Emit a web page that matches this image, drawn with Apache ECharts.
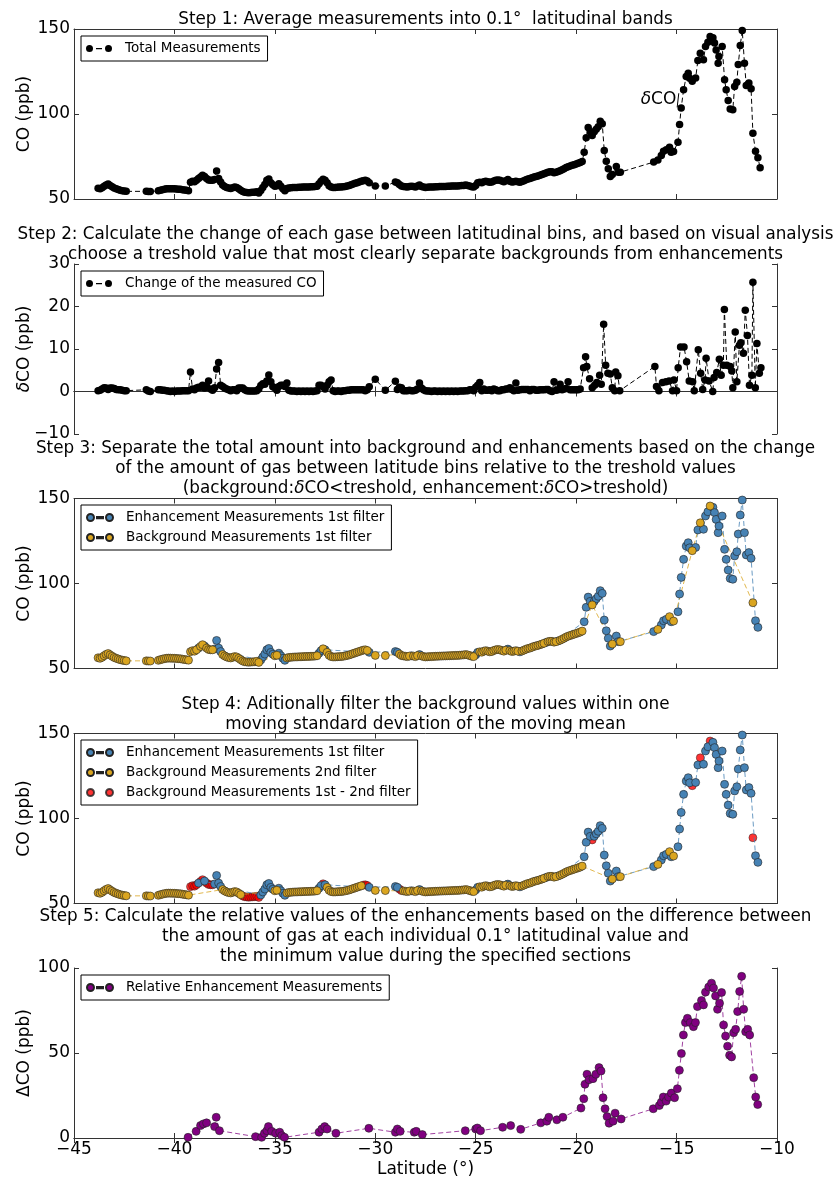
<!DOCTYPE html>
<html>
<head>
<meta charset="utf-8">
<script src="https://cdn.jsdelivr.net/npm/echarts@6.0.0/dist/echarts.min.js"></script>
<style>
html,body{margin:0;padding:0;background:#fff;}
#c{width:836px;height:1181px;}
</style>
</head>
<body>
<div id="c"></div>
<script>
// ---------------- DATA ----------------
const xTickLabels = ['\u221245','\u221240','\u221235','\u221230','\u221225','\u221220','\u221215','\u221210'];

// Enhancement measurements (1st filter) [latitude, CO ppb]
const enhPts = [
  [-38.8,62.0],[-38.5,63.2],[-38.0,61.5],[-37.9,66.5],[-37.8,62.0],[-37.7,60.0],
  [-35.7,55.0],[-35.6,56.8],[-35.5,58.5],[-35.4,61.0],[-35.3,61.8],[-35.2,59.5],[-35.1,58.4],
  [-34.8,59.0],[-34.7,57.5],[-34.6,56.0],[-34.5,54.8],
  [-32.8,59.0],[-32.7,60.5],[-32.5,61.0],
  [-30.3,59.5],[-29.0,60.0],[-28.9,59.5],[-28.2,57.5],[-27.8,58.2],
  [-25.0,58.0],[-24.9,59.5],[-23.4,61.4],[-22.8,59.8],[-21.5,65.3],[-20.9,66.2],
  [-19.6,77.5],[-19.5,86.0],[-19.4,92.0],[-19.3,89.5],[-19.1,89.5],[-19.0,91.0],[-18.9,92.5],
  [-18.8,95.8],[-18.7,94.2],[-18.6,78.5],[-18.5,72.2],[-18.4,67.8],[-18.3,63.2],[-18.0,69.1],[-17.9,65.8],
  [-16.14,71.7],[-15.76,75.6],[-15.65,78.1],[-15.51,78.9],[-15.27,77.5],[-14.93,83.4],[-14.85,93.8],
  [-14.77,103.6],[-14.65,114.2],[-14.52,122.0],[-14.42,124.0],[-14.35,121.0],[-14.05,121.2],[-13.94,131.5],
  [-13.66,131.9],[-13.56,139.7],[-13.44,142.2],[-13.19,144.8],[-13.11,141.7],[-13.03,137.7],[-12.93,129.9],
  [-12.89,133.8],[-12.73,139.7],[-12.61,120.1],[-12.53,114.2],[-12.43,107.9],[-12.33,103.0],[-12.20,102.5],
  [-12.11,116.2],[-12.00,118.7],[-11.93,129.1],[-11.83,140.3],[-11.73,149.1],[-11.62,129.9],[-11.53,116.8],
  [-11.40,118.2],[-11.29,114.8],[-11.07,78.1],[-10.95,74.2]
];

// Background measurements kept by the 2nd filter [latitude, CO ppb]
const bgPts = [
  [-43.8,56.3],[-43.7,56.0],[-43.6,56.6],[-43.5,57.5],[-43.4,58.3],[-43.3,58.8],[-43.2,58.0],[-43.1,57.2],
  [-43.0,56.5],[-42.9,56.0],[-42.8,55.6],[-42.7,55.2],[-42.6,54.9],[-42.5,54.7],[-42.4,54.5],
  [-41.4,54.5],[-41.3,54.4],[-41.2,54.4],
  [-40.8,54.8],[-40.7,55.2],[-40.6,55.5],[-40.5,55.8],[-40.4,56.0],[-40.3,56.1],[-40.2,56.1],[-40.1,56.0],
  [-40.0,56.0],[-39.9,55.9],[-39.8,55.8],[-39.7,55.7],[-39.6,55.5],[-39.5,55.3],[-39.4,55.1],[-39.3,54.9],
  [-37.6,58.2],[-37.5,57.4],[-37.4,56.8],[-37.3,56.4],[-37.2,56.2],[-37.1,56.6],[-37.0,57.0],[-36.9,56.8],
  [-36.8,56.0],[-36.7,55.2],
  [-35.0,57.5],[-34.9,57.8],
  [-34.4,56.2],[-34.3,56.5],[-34.2,56.6],[-34.1,56.7],[-34.0,56.8],[-33.9,56.8],[-33.8,56.9],[-33.7,56.9],
  [-33.6,57.0],[-33.5,57.0],[-33.4,57.1],[-33.3,57.1],[-33.2,57.2],[-33.1,57.2],[-33.0,57.3],[-32.9,57.5],
  [-32.4,59.5],[-32.3,57.8],[-32.2,57.0],[-32.1,56.8],[-32.0,56.8],[-31.9,56.9],[-31.8,57.0],[-31.7,57.0],
  [-31.6,57.2],[-31.5,57.4],[-31.4,57.7],[-31.3,58.0],[-31.2,58.4],[-31.1,58.8],[-31.0,59.2],[-30.9,59.6],
  [-30.8,60.0],[-30.7,60.4],
  [-30.0,57.7],[-29.5,57.6],
  [-28.6,57.4],[-28.5,57.2],[-28.4,57.0],[-28.3,57.3],[-28.1,57.3],[-28.0,57.0],[-27.9,57.6],[-27.7,57.4],
  [-27.6,57.0],[-27.5,56.8],[-27.4,56.9],[-27.3,57.0],[-27.2,57.0],[-27.1,57.1],[-27.0,57.2],[-26.9,57.2],
  [-26.8,57.3],[-26.7,57.3],[-26.6,57.4],[-26.5,57.4],[-26.4,57.5],[-26.3,57.5],[-26.2,57.6],[-26.1,57.6],
  [-26.0,57.7],[-25.9,57.7],[-25.8,57.8],[-25.7,57.9],[-25.6,58.0],[-25.5,58.2],[-25.4,58.0],[-25.3,57.6],
  [-25.2,57.2],[-25.1,57.0],
  [-24.8,59.8],[-24.7,59.6],[-24.6,60.2],[-24.5,60.5],[-24.4,60.2],[-24.3,59.8],[-24.2,60.0],[-24.1,60.6],
  [-24.0,61.0],[-23.9,61.2],[-23.8,61.0],[-23.7,60.6],[-23.6,60.2],[-23.5,60.8],[-23.3,60.5],[-23.2,60.0],
  [-23.1,60.2],[-23.0,60.5],[-22.9,60.2],[-22.7,60.3],[-22.6,60.8],[-22.5,61.3],[-22.4,61.8],[-22.3,62.0],
  [-22.2,62.5],[-22.1,63.0],[-22.0,63.3],[-21.9,63.6],[-21.8,64.0],[-21.7,64.4],[-21.6,64.8],[-21.4,65.8],
  [-21.3,66.0],[-21.2,66.0],[-21.1,65.5],[-21.0,65.8],[-20.8,66.6],[-20.7,67.2],[-20.6,67.8],[-20.5,68.5],
  [-20.4,69.0],[-20.3,69.4],[-20.2,69.8],[-20.1,70.2],[-20.0,70.6],[-19.9,71.0],[-19.8,71.4],[-19.7,72.0],
  [-18.2,64.4],[-17.8,65.8],[-15.93,73.0],[-15.35,80.5],[-15.15,77.9]
];

// Background 1st filter points removed by the 2nd filter [latitude, CO ppb]
const redPts = [
  [-39.2,59.9],[-39.1,60.5],[-39.0,60.2],[-38.9,61.0],[-38.7,63.0],[-38.6,64.0],[-38.4,62.0],[-38.3,61.2],
  [-38.2,61.0],[-38.1,61.0],
  [-36.6,54.4],[-36.5,54.0],[-36.4,53.8],[-36.3,53.7],[-36.2,53.8],[-36.1,53.9],[-36.0,54.0],[-35.9,54.2],[-35.8,53.6],
  [-32.6,61.6],[-30.6,60.8],[-30.5,61.0],[-30.4,60.6],[-28.8,58.5],[-28.7,57.6],
  [-19.2,87.4],[-14.22,119.3],[-13.82,135.7],[-13.33,145.6],[-11.20,88.7]
];

// Unclassified last bin (only in the total)
const extraPts = [[-10.84,68.4]];

// Change of the measured CO between bins [latitude, dCO ppb]
const dcoPts = [
  [-43.8,0.2],[-43.7,0.3],[-43.6,0.6],[-43.5,0.9],[-43.4,0.8],[-43.3,0.5],[-43.2,0.8],[-43.1,0.8],[-43.0,0.7],
  [-42.9,0.5],[-42.8,0.4],[-42.7,0.4],[-42.6,0.3],[-42.5,0.2],[-42.4,0.2],
  [-41.4,0.4],[-41.3,0.1],[-41.2,0.0],
  [-40.8,0.4],[-40.7,0.4],[-40.6,0.3],[-40.5,0.3],[-40.4,0.2],[-40.3,0.1],[-40.2,0.0],[-40.1,0.1],[-40.0,0.0],
  [-39.9,0.1],[-39.8,0.1],[-39.7,0.1],[-39.6,0.2],[-39.5,0.2],[-39.4,0.2],[-39.3,0.2],
  [-39.2,4.6],[-39.1,0.6],[-39.0,0.4],[-38.9,0.8],[-38.8,1.0],[-38.7,1.0],[-38.6,1.5],[-38.5,0.8],[-38.4,1.2],
  [-38.3,2.5],[-38.2,0.6],[-38.1,0.3],[-38.0,0.9],[-37.9,5.3],[-37.8,6.8],[-37.7,1.5],[-37.6,1.2],[-37.5,0.8],
  [-37.4,0.6],[-37.3,0.4],[-37.2,0.2],[-37.1,0.4],[-37.0,0.4],[-36.9,0.2],[-36.8,0.8],[-36.7,0.8],[-36.6,0.8],
  [-36.5,0.4],[-36.4,0.2],[-36.3,0.1],[-36.2,0.1],[-36.1,0.1],[-36.0,0.1],[-35.9,0.2],[-35.8,0.6],[-35.7,1.4],
  [-35.6,1.8],[-35.5,1.7],[-35.4,2.5],[-35.3,3.9],[-35.2,2.3],[-35.1,1.1],[-35.0,0.9],[-34.9,0.3],[-34.8,1.2],
  [-34.7,1.5],[-34.6,1.5],[-34.5,1.2],[-34.4,2.0],[-34.3,0.3],[-34.2,0.1],[-34.1,0.1],[-34.0,0.1],[-33.9,0.0],
  [-33.8,0.1],[-33.7,0.0],[-33.6,0.1],[-33.5,0.0],[-33.4,0.1],[-33.3,0.0],[-33.2,0.1],[-33.1,0.0],[-33.0,0.1],
  [-32.9,0.2],[-32.8,1.5],[-32.7,1.5],[-32.6,1.1],[-32.5,0.6],[-32.4,1.5],[-32.3,2.3],[-32.2,2.7],[-32.1,0.2],
  [-32.0,0.0],[-31.9,0.1],[-31.8,0.1],[-31.7,0.0],[-31.6,0.2],[-31.5,0.2],[-31.4,0.3],[-31.3,0.3],[-31.2,0.4],
  [-31.1,0.4],[-31.0,0.4],[-30.9,0.4],[-30.8,0.4],[-30.7,0.4],[-30.6,0.4],[-30.5,0.2],[-30.4,0.4],[-30.3,1.1],
  [-30.0,2.9],[-29.5,0.3],
  [-29.0,2.4],[-28.9,0.5],[-28.8,1.0],[-28.7,0.9],[-28.6,0.2],[-28.5,0.2],[-28.4,0.2],[-28.3,0.3],[-28.2,0.2],
  [-28.1,0.2],[-28.0,0.3],[-27.9,0.6],[-27.8,2.0],[-27.7,0.8],[-27.6,0.4],[-27.5,0.2],[-27.4,0.1],[-27.3,0.1],
  [-27.2,0.0],[-27.1,0.1],[-27.0,0.1],[-26.9,0.0],[-26.8,0.1],[-26.7,0.0],[-26.6,0.1],[-26.5,0.0],[-26.4,0.1],
  [-26.3,0.0],[-26.2,0.1],[-26.1,0.0],[-26.0,0.1],[-25.9,0.0],[-25.8,0.1],[-25.7,0.1],[-25.6,0.1],[-25.5,0.2],
  [-25.4,0.2],[-25.3,0.4],[-25.2,0.4],[-25.1,0.2],[-25.0,1.0],[-24.9,1.5],[-24.8,2.1],[-24.7,0.2],[-24.6,0.6],
  [-24.5,0.3],[-24.4,0.3],[-24.3,0.4],[-24.2,0.2],[-24.1,0.6],[-24.0,0.4],[-23.9,0.2],[-23.8,0.2],[-23.7,0.4],
  [-23.6,0.4],[-23.5,0.6],[-23.4,0.6],[-23.3,0.9],[-23.2,0.5],[-23.1,0.2],[-23.0,2.0],[-22.9,0.3],[-22.8,0.4],
  [-22.7,0.5],[-22.6,0.5],[-22.5,0.5],[-22.4,0.5],[-22.3,0.2],[-22.2,0.5],[-22.1,0.5],[-22.0,0.3],[-21.9,0.3],
  [-21.8,0.4],[-21.7,0.4],[-21.6,0.4],[-21.5,0.5],[-21.4,0.5],[-21.3,0.2],[-21.2,0.0],[-21.1,2.3],[-21.0,0.3],
  [-20.9,0.4],[-20.8,1.7],[-20.7,0.4],[-20.6,0.6],[-20.5,0.7],[-20.4,2.3],[-20.3,0.4],[-20.2,0.4],[-20.1,0.4],
  [-20.0,0.4],[-19.9,0.4],[-19.8,0.6],
  [-19.63,5.6],[-19.53,8.2],[-19.47,5.9],[-19.33,3.0],[-19.20,0.9],[-19.08,1.5],[-18.97,2.1],[-18.83,3.8],
  [-18.75,1.7],[-18.63,15.8],[-18.53,6.2],[-18.42,4.3],[-18.30,4.1],[-18.20,0.9],[-18.08,0.2],[-18.03,4.6],
  [-17.92,3.7],[-17.83,0.2],
  [-16.08,5.9],[-16.00,1.2],[-15.88,0.2],[-15.70,2.1],[-15.53,2.3],[-15.37,2.5],[-15.20,0.2],[-15.13,2.7],
  [-15.00,0.2],[-14.92,5.6],[-14.80,10.5],[-14.63,10.5],[-14.50,7.0],[-14.37,2.5],[-14.20,2.3],[-14.12,0.2],
  [-13.92,9.8],[-13.80,4.3],[-13.70,0.5],[-13.58,2.7],[-13.53,7.8],[-13.38,2.5],[-13.20,0.0],[-13.13,3.3],
  [-13.00,4.5],[-12.87,7.6],[-12.78,3.8],[-12.67,6.2],[-12.62,19.3],[-12.50,6.2],[-12.33,5.9],[-12.25,4.8],
  [-12.20,0.9],[-12.08,14.0],[-12.00,2.3],[-11.87,10.9],[-11.80,11.5],[-11.67,9.0],[-11.58,19.1],[-11.47,13.2],
  [-11.37,1.5],[-11.25,3.8],[-11.20,25.7],[-11.08,0.9],[-11.00,11.3],[-10.88,4.3],[-10.80,5.6]
];

// Relative enhancement measurements [latitude, dCO ppb]
const relPts = [
  [-39.32,0.4],[-38.92,3.9],[-38.70,7.3],[-38.56,8.3],[-38.40,8.9],[-38.00,6.7],[-37.92,12.2],[-37.76,4.3],
  [-35.96,0.8],[-35.66,0.4],[-35.52,2.8],[-35.40,4.3],[-35.32,6.7],[-35.16,3.9],[-34.96,2.8],[-34.76,3.4],
  [-34.66,1.4],[-34.52,0.4],
  [-32.80,3.4],[-32.66,5.3],[-32.52,6.7],[-32.40,5.3],[-31.96,2.8],[-30.32,5.7],
  [-29.00,3.4],[-28.90,5.3],[-28.76,3.9],[-28.06,3.4],[-27.96,3.9],[-27.66,2.0],
  [-25.52,4.3],[-25.00,5.3],[-24.92,5.9],[-24.76,4.3],[-23.66,6.3],[-23.26,7.3],[-22.76,5.1],
  [-21.76,8.9],[-21.46,9.9],[-21.36,12.2],[-20.96,10.7],[-20.66,12.2],
  [-19.76,17.6],[-19.62,23.1],[-19.56,31.6],[-19.46,37.5],[-19.36,34.3],[-19.16,34.9],[-19.02,37.5],
  [-18.86,41.4],[-18.76,39.4],[-18.66,23.7],[-18.56,17.2],[-18.46,12.6],[-18.36,8.7],[-18.16,9.9],
  [-18.06,14.6],[-17.76,11.2],
  [-16.16,17.2],[-15.86,19.1],[-15.76,21.1],[-15.66,24.1],[-15.52,21.7],[-15.40,24.1],[-15.26,26.4],
  [-15.10,23.7],[-14.96,29.0],[-14.86,39.8],[-14.76,49.7],[-14.66,60.6],[-14.56,67.9],[-14.46,70.4],
  [-14.32,67.9],[-14.16,65.5],[-14.06,67.9],[-13.96,77.3],[-13.76,80.9],[-13.66,78.3],[-13.56,85.8],
  [-13.40,88.8],[-13.26,91.1],[-13.16,88.2],[-13.06,83.6],[-12.96,75.7],[-12.86,79.3],[-12.76,85.6],
  [-12.66,66.5],[-12.56,60.0],[-12.46,54.0],[-12.36,48.7],[-12.26,47.7],[-12.16,61.9],[-12.06,63.9],
  [-11.96,74.4],[-11.86,86.2],[-11.76,95.1],[-11.66,75.7],[-11.56,62.5],[-11.46,63.9],[-11.36,60.6],
  [-11.16,35.5],[-11.06,24.1],[-10.96,19.7]
];

// Annotation "δCO" arrow (data coordinates, panel 1)
const arrowFrom = [-14.97,103.9];
const arrowTo = [-14.89,112.2];
const arrowLabelAt = [-15.9,108.2];

// ---------------- BUILD ----------------
const byLat = (a, b) => a[0] - b[0];
const totalPts = enhPts.concat(bgPts, redPts, extraPts).sort(byLat);
const enhSorted = enhPts.slice().sort(byLat);
const bg1Pts = bgPts.concat(redPts).sort(byLat);
const bg2Pts = bgPts.slice().sort(byLat);
const redSorted = redPts.slice().sort(byLat);

const F = 'DejaVu Sans';
const FS = 17;
const TFS = 16.8;
const tops = [29, 264, 498.5, 733.5, 968];
const H = 170;
const yRanges = [[50,150,50],[-10,30,10],[50,150,50],[50,150,50],[0,100,50]];
const yNames = ['CO (ppb)','{i|\u03b4}CO (ppb)','CO (ppb)','CO (ppb)','\u0394CO (ppb)'];

const frame = '#333';
const axisLine = {show:true, lineStyle:{color:frame, width:1}};
const tick = {show:true, inside:true, length:5, lineStyle:{color:frame, width:1}};
const minus = v => String(v).replace('-', '\u2212');

const grid = tops.map(t => ({left:74, top:t, width:703, height:H, outerBoundsMode:'none', containLabel:false}));

const xAxis = [], yAxis = [];
tops.forEach((t, i) => {
  const last = i === tops.length - 1;
  xAxis.push({
    type:'value', gridIndex:i, position:'bottom', min:-45, max:-10, interval:5,
    axisLine, axisTick:tick, splitLine:{show:false},
    axisLabel:{show:last, fontSize:FS, color:'#000', fontFamily:F, margin:3,
      showMinLabel:true, showMaxLabel:true, hideOverlap:false,
      formatter: v => xTickLabels[Math.round((v + 45) / 5)]},
    name: last ? 'Latitude (\u00b0)' : '', nameLocation:'middle', nameGap:23, nameMoveOverlap:false,
    nameTextStyle:{fontSize:FS, color:'#000', fontFamily:F}
  });
  xAxis.push({
    type:'value', gridIndex:i, position:'top', min:-45, max:-10, interval:5,
    axisLine, axisTick:tick, splitLine:{show:false}, axisLabel:{show:false}
  });
  const r = yRanges[i];
  yAxis.push({
    type:'value', gridIndex:i, position:'left', min:r[0], max:r[1], interval:r[2],
    axisLine, axisTick:tick, splitLine:{show:false},
    axisLabel:{fontSize:FS, color:'#000', fontFamily:F, margin:4, formatter: minus,
      showMinLabel:true, showMaxLabel:true, hideOverlap:false},
    name:yNames[i], nameLocation:'middle', nameGap:41, nameRotate:90, nameMoveOverlap:false,
    nameTextStyle:{fontSize:FS, color:'#000', fontFamily:F,
      rich:{i:{fontStyle:'italic', fontSize:FS, fontFamily:F, color:'#000'}}}
  });
  yAxis.push({
    type:'value', gridIndex:i, position:'right', min:r[0], max:r[1], interval:r[2],
    axisLine, axisTick:tick, splitLine:{show:false}, axisLabel:{show:false}
  });
});

const dashed = [5, 3];
const iconLine = 'path://M0,3.5a3.5,3.5 0 1,0 7,0a3.5,3.5 0 1,0 -7,0Z M10,3 h6 v1.2 h-6Z M19,3.5a3.5,3.5 0 1,0 7,0a3.5,3.5 0 1,0 -7,0Z';
const iconDots = 'path://M0,3.5a3.5,3.5 0 1,0 7,0a3.5,3.5 0 1,0 -7,0Z M19,3.5a3.5,3.5 0 1,0 7,0a3.5,3.5 0 1,0 -7,0Z';

const BLUE = '#4682B4', GOLD = '#DAA520', RED = '#FF0000', PURPLE = '#800080';
const edge = {borderColor:'#222', borderWidth:0.6};

function lineSeries(name, i, data, color, size, withEdge, lineOpacity) {
  return {
    type:'line', name, xAxisIndex:2*i, yAxisIndex:2*i, data,
    symbol:'circle', symbolSize:size, showSymbol:true, animation:false,
    itemStyle: Object.assign({color}, withEdge ? edge : {}),
    lineStyle:{color, width:1, type:dashed, opacity:lineOpacity},
    emphasis:{disabled:true}
  };
}

const s0 = lineSeries('Total Measurements', 0, totalPts, '#000', 7.5, false, 1);
s0.markLine = {
  silent:true, symbol:['none','arrow'], symbolSize:[0,6], animation:false,
  lineStyle:{color:'#000', width:1, type:'solid'}, label:{show:false},
  data:[[{coord:arrowFrom},{coord:arrowTo}]]
};
s0.markPoint = {
  silent:true, animation:false, symbol:'circle', symbolSize:0,
  data:[{coord:arrowLabelAt, label:{show:true, position:'inside', formatter:'{i|\u03b4}CO',
    fontSize:FS, color:'#000', fontFamily:F,
    rich:{i:{fontStyle:'italic', fontSize:FS, color:'#000', fontFamily:F}}}}]
};

const series = [
  s0,
  lineSeries('Change of the measured CO', 1, dcoPts, '#000', 7.5, false, 1),
  lineSeries('Enhancement Measurements 1st filter', 2, enhSorted, BLUE, 8, true, 0.8),
  lineSeries('Background Measurements 1st filter', 2, bg1Pts, GOLD, 8, true, 0.8),
  lineSeries('Enhancement Measurements 1st filter', 3, enhSorted, BLUE, 8, true, 0.8),
  lineSeries('Background Measurements 2nd filter', 3, bg2Pts, GOLD, 8, true, 0.8),
  {type:'scatter', name:'Background Measurements 1st - 2nd filter', xAxisIndex:6, yAxisIndex:6,
   data:redSorted, symbol:'circle', symbolSize:8, animation:false,
   itemStyle:Object.assign({color:RED}, edge), emphasis:{disabled:true}},
  lineSeries('Relative Enhancement Measurements', 4, relPts, PURPLE, 8, true, 0.75)
];

function legend(top, names, icons) {
  return {
    orient:'vertical', left:81, top, selectedMode:false,
    padding:[5,7,5,5], itemGap:5, itemWidth:26, itemHeight:7,
    borderColor:'#000', borderWidth:1, borderRadius:0, backgroundColor:'#fff',
    textStyle:{fontSize:13.5, color:'#000', fontFamily:F, lineHeight:15, padding:[0,0,0,8]},
    data:names.map((n, k) => ({name:n, icon:icons[k]}))
  };
}

const legends = [
  legend(36, ['Total Measurements'], [iconLine]),
  legend(271, ['Change of the measured CO'], [iconLine]),
  legend(505, ['Enhancement Measurements 1st filter','Background Measurements 1st filter'], [iconLine, iconLine]),
  legend(740, ['Enhancement Measurements 1st filter','Background Measurements 2nd filter','Background Measurements 1st - 2nd filter'], [iconLine, iconLine, iconDots]),
  legend(975, ['Relative Enhancement Measurements'], [iconLine])
];

const titleTexts = [
  'Step 1: Average measurements into 0.1\u00b0  latitudinal bands',
  'Step 2: Calculate the change of each gase between latitudinal bins, and based on visual analysis\nchoose a treshold value that most clearly separate backgrounds from enhancements',
  'Step 3: Separate the total amount into background and enhancements based on the change\nof the amount of gas between latitude bins relative to the treshold values\n(background:{i|\u03b4}CO<treshold, enhancement:{i|\u03b4}CO>treshold)',
  'Step 4: Aditionally filter the background values within one\nmoving standard deviation of the moving mean',
  'Step 5: Calculate the relative values of the enhancements based on the difference between\nthe amount of gas at each individual 0.1\u00b0 latitudinal value and\nthe minimum value during the specified sections'
];
const titleTops = [9.5, 225, 439, 695, 907];
const title = titleTexts.map((t, k) => ({
  text:t, left:425.5, top:titleTops[k], textAlign:'center', padding:0,
  textStyle:{fontSize:TFS, fontWeight:'normal', color:'#000', fontFamily:F, lineHeight:19.8,
    rich:{i:{fontStyle:'italic', fontSize:TFS, color:'#000', fontFamily:F, lineHeight:19.8}}}
}));

const chart = echarts.init(document.getElementById('c'), null, {renderer:'canvas'});
chart.setOption({
  animation:false,
  backgroundColor:'#fff',
  textStyle:{fontFamily:F},
  title, grid, xAxis, yAxis, legend:legends, series
});
</script>
</body>
</html>
